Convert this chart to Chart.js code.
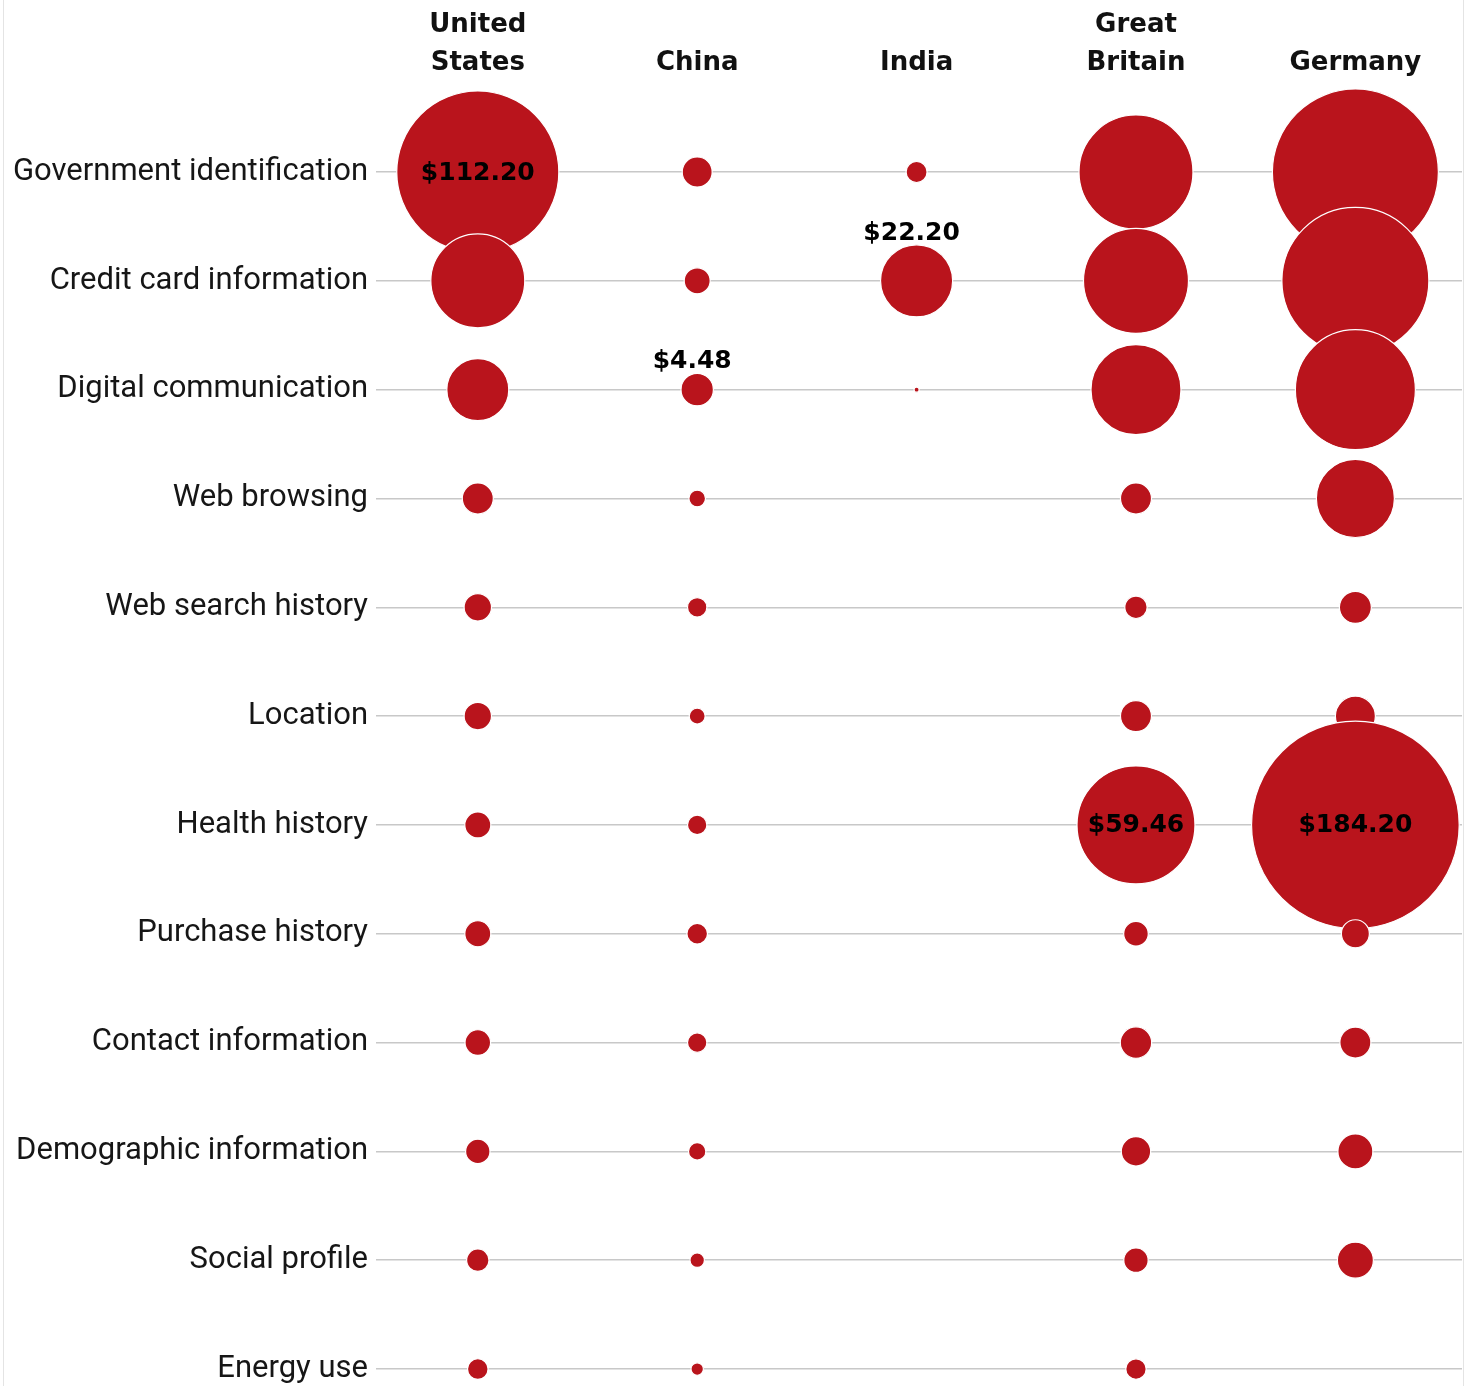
<!DOCTYPE html>
<html>
<head>
<meta charset="utf-8">
<script src="https://cdn.jsdelivr.net/npm/chart.js@4/dist/chart.umd.min.js"></script>
<style>
  html, body { margin: 0; padding: 0; background: #fff; overflow: hidden; }
  #frame { position: absolute; left: 3px; top: 0; width: 1459px; height: 1386px;
           border-left: 1px solid #e4e4e4; border-right: 1px solid #e4e4e4; }
  #wrap { position: absolute; left: 0; top: 0; width: 1466px; height: 1386px; }
</style>
</head>
<body>
<div id="frame"></div>
<div id="wrap"><canvas id="c" width="1466" height="1386"></canvas></div>
<script>
const categories = [
  'Government identification', 'Credit card information', 'Digital communication',
  'Web browsing', 'Web search history', 'Location', 'Health history',
  'Purchase history', 'Contact information', 'Demographic information',
  'Social profile', 'Energy use'
];
const countries = ['United States', 'China', 'India', 'Great Britain', 'Germany'];

// Estimated value (USD) per category, in category order
const unitedStates = [112.20, 37.7, 16.4, 4.11, 3.21, 3.21, 2.89, 2.89, 2.80, 2.54, 2.14, 1.81];
const china        = [3.84, 2.89, 4.48, 1.18, 1.61, 1.09, 1.61, 1.81, 1.61, 1.29, 0.89, 0.66];
const india        = [1.88, 22.20, 0.11, null, null, null, null, null, null, null, null, null];
const greatBritain = [55.5, 47.1, 34.6, 4.11, 2.14, 4.11, 59.46, 2.59, 4.21, 3.69, 2.54, 1.78];
const germany      = [117.7, 92.3, 61.5, 26.0, 4.37, 6.84, 184.20, 3.35, 4.11, 5.23, 5.54, null];

// Which bubbles carry a printed value: [country, category, placement]
const labeledCountries  = ['United States', 'China', 'India', 'Great Britain', 'Germany'];
const labeledCategories = ['Government identification', 'Digital communication', 'Credit card information', 'Health history', 'Health history'];
const labeledPlacement  = ['center', 'above', 'above', 'center', 'center'];

const seriesByCountry = [unitedStates, china, india, greatBritain, germany];
const RADIUS_SCALE = 7.65; // px per sqrt(dollar): bubble area proportional to value
const RED = '#b9141c';

const datasets = countries.map((name, ci) => ({
  label: name,
  data: seriesByCountry[ci]
    .map((v, ri) => v == null ? null : { x: ci, y: ri, r: RADIUS_SCALE * Math.sqrt(v), v: v })
    .filter(d => d !== null),
  backgroundColor: RED,
  borderColor: '#ffffff',
  borderWidth: 1.2,
  clip: false
}));

const valueLabels = {
  id: 'valueLabels',
  afterDatasetsDraw(chart) {
    const ctx = chart.ctx;
    ctx.save();
    ctx.font = 'bold 25px "DejaVu Sans"';
    ctx.fillStyle = '#000';
    ctx.textAlign = 'center';
    labeledCountries.forEach((cn, k) => {
      const di = countries.indexOf(cn);
      const ri = categories.indexOf(labeledCategories[k]);
      const ds = chart.data.datasets[di];
      const j = ds.data.findIndex(d => d.y === ri);
      if (j < 0) return;
      const el = chart.getDatasetMeta(di).data[j];
      const txt = '$' + ds.data[j].v.toFixed(2);
      if (labeledPlacement[k] === 'center') {
        ctx.textBaseline = 'middle';
        ctx.fillText(txt, el.x, el.y + 1);
      } else {
        ctx.textBaseline = 'alphabetic';
        ctx.fillText(txt, el.x - 5, el.y - el.options.radius - 5);
      }
    });
    ctx.restore();
  }
};

function zeroPadding(s) {
  s.paddingLeft = 0; s.paddingRight = 0; s.paddingTop = 0; s.paddingBottom = 0;
}

new Chart(document.getElementById('c'), {
  type: 'bubble',
  data: { datasets },
  options: {
    responsive: false,
    animation: false,
    events: [],
    layout: { autoPadding: false, padding: { left: 0, right: 4, top: 0, bottom: 0 } },
    plugins: { legend: { display: false }, tooltip: { enabled: false } },
    scales: {
      x: {
        type: 'linear',
        position: 'top',
        min: -0.464,
        max: 4.486,
        afterFit: s => { s.height = 88; zeroPadding(s); },
        grid: { display: false, drawTicks: false },
        border: { display: false },
        ticks: {
          stepSize: 1,
          includeBounds: false,
          autoSkip: false,
          maxRotation: 0,
          padding: 6,
          color: '#111',
          font: { family: 'DejaVu Sans', weight: 'bold', size: 26, lineHeight: 1.46 },
          callback: v => {
            const n = countries[v];
            if (n === undefined) return '';
            const parts = n.split(' ');
            return parts.length > 1 ? parts : n;
          }
        }
      },
      y: {
        type: 'linear',
        reverse: true,
        min: -0.772,
        max: 11.156,
        afterFit: s => { s.width = 376; zeroPadding(s); },
        grid: { display: true, drawTicks: false, color: '#c8c8c8', lineWidth: 1.5 },
        border: { display: false },
        ticks: {
          stepSize: 1,
          includeBounds: false,
          autoSkip: false,
          padding: 8,
          color: '#161616',
          font: { family: 'Roboto', size: 31 },
          callback: v => categories[v] === undefined ? '' : categories[v]
        }
      }
    }
  },
  plugins: [valueLabels]
});
</script>
</body>
</html>
